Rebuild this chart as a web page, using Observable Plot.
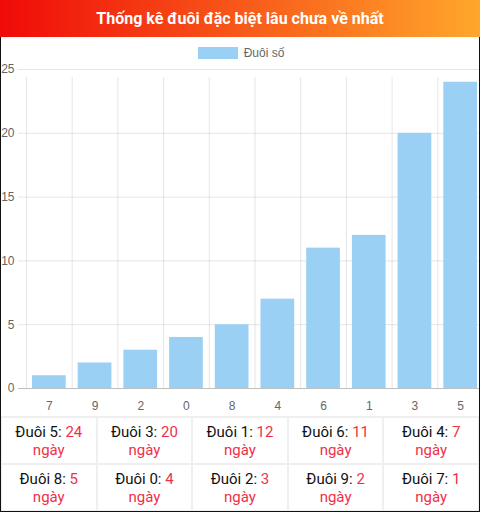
<!DOCTYPE html>
<html>
<head>
<meta charset="utf-8">
<script src="https://cdn.jsdelivr.net/npm/d3@7"></script>
<script src="https://cdn.jsdelivr.net/npm/@observablehq/plot@0.6"></script>
<style>
  html, body { margin: 0; padding: 0; background: #fff; }
  .wrap { width: 480px; }
  .head {
    height: 37px; text-align: center;
    background: linear-gradient(to right, #f00a08, #ffa72b);
    color: #fff; font: bold 16px Roboto, sans-serif; line-height: 37px;
  }
  .body { position: relative; }
  .body::after {
    content: ""; position: absolute; inset: 0; pointer-events: none;
    border: 1px solid #111; border-top: none;
  }
  .legend {
    height: 25px; display: flex; justify-content: center; align-items: center;
    font: 12px "Liberation Sans", Arial, sans-serif; color: #666;
    padding-top: 6px; box-sizing: border-box;
  }
  .legend span.box { width: 40px; height: 12px; background: #9bd0f5; margin-right: 6px; margin-left: 2px; }
  #chart svg { display: block; }
  table { width: 480px; border-collapse: collapse; table-layout: fixed; }
  td {
    border: 2.5px solid #efefef; text-align: center; padding: 5px 0 4px;
    font: 15px Roboto, sans-serif; line-height: 18px; color: #111;
  }
  td .n { color: #f03048; }
</style>
</head>
<body>
<div class="wrap">
  <div class="head" id="title"></div>
  <div class="body">
    <div class="legend"><span class="box"></span><span id="series"></span></div>
    <div id="chart"></div>
    <table id="tbl"></table>
  </div>
</div>
<script>
const title = "Thống kê đuôi đặc biệt lâu chưa về nhất";
const seriesLabel = "Đuôi số";
const categories = ["7", "9", "2", "0", "8", "4", "6", "1", "3", "5"];
const values = [1, 2, 3, 4, 5, 7, 11, 12, 20, 24];
const yTicks = [0, 5, 10, 15, 20, 25];
const cellPrefix = "Đuôi";
const cellUnit = "ngày";

document.getElementById("title").textContent = title;
document.getElementById("series").textContent = seriesLabel;

const data = categories.map((c, i) => ({digit: c, days: values[i]}));

const width = 480, marginLeft = 26, marginRight = -3;
const step = (width - marginLeft - marginRight) / categories.length;

const chart = Plot.plot({
  width,
  height: 354,
  marginTop: 7,
  marginBottom: 28,
  marginLeft,
  marginRight,
  x: {domain: categories, padding: 0, round: false, axis: null, label: null},
  y: {domain: [0, 25], axis: null, label: null},
  style: {fontFamily: "'Liberation Sans', Arial, sans-serif", fontSize: "12px", color: "#666", background: "transparent"},
  marks: [
    Plot.ruleY(yTicks.filter(d => d > 0), {y: d => d, stroke: "#000", strokeOpacity: 0.1, insetLeft: -8}),
    Plot.ruleX(categories, {x: d => d, dx: -step / 2, y1: 0, y2: 25, stroke: "#000", strokeOpacity: 0.1, insetBottom: -8}),
    Plot.barY(data, {x: "digit", y: "days", fill: "#9bd0f5", insetLeft: 6, insetRight: 6}),
    Plot.ruleY([0], {stroke: "#000", strokeOpacity: 0.25, insetLeft: -8}),
    Plot.axisX({tickSize: 0, tickPadding: 13, fill: "#666", label: null}),
    Plot.axisY(yTicks, {tickSize: 0, tickPadding: 12, fill: "#666", label: null})
  ]
});
document.getElementById("chart").append(chart);

// table: sorted by days, descending
const sorted = d3.sort(data, d => -d.days);
const tbl = d3.select("#tbl");
d3.range(0, sorted.length, 5).forEach(start => {
  const tr = tbl.append("tr");
  sorted.slice(start, start + 5).forEach(d => {
    const td = tr.append("td");
    td.append("span").text(`${cellPrefix} ${d.digit}: `);
    td.append("span").attr("class", "n").text(d.days);
    td.append("br");
    td.append("span").attr("class", "n").text(cellUnit);
  });
});
</script>
</body>
</html>
